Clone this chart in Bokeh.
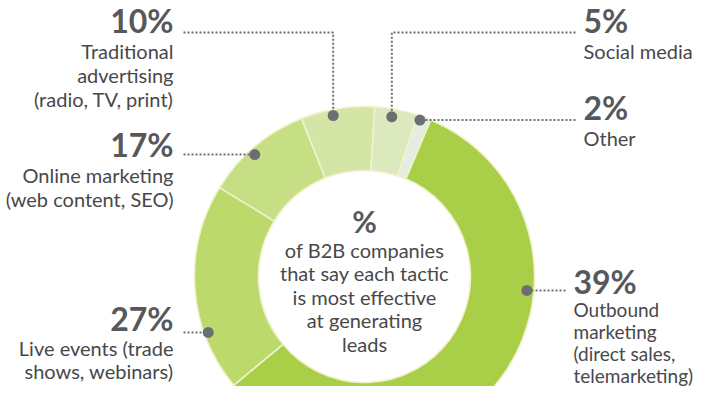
import math
from bokeh.plotting import figure
from bokeh.models import Range1d, ColumnDataSource
from bokeh.core.properties import value
from bokeh.embed import file_html
from bokeh.resources import INLINE

# ---------------- data ----------------
tactics = ["Outbound marketing", "Live events", "Online marketing",
           "Traditional advertising", "Social media", "Other"]
percent = [39, 27, 17, 10, 5, 2]
# share of the ring each slice occupies in the picture (percent of full circle)
drawn_share = [57.6, 19.8, 10.2, 7.0, 4.1, 1.3]
pct_labels = ["39%", "27%", "17%", "10%", "5%", "2%"]
label_lines = [
    ["Outbound", "marketing", "(direct sales,", "telemarketing)"],
    ["Live events (trade", "shows, webinars)"],
    ["Online marketing", "(web content, SEO)"],
    ["Traditional", "advertising", "(radio, TV, print)"],
    ["Social media"],
    ["Other"],
]
center_title = "%"
center_lines = ["of B2B companies", "that say each tactic", "is most effective",
                "at generating", "leads"]

# ---------------- styles / layout ----------------
colors = ["#a9cf48", "#bcd96c", "#c6df85", "#d3e6a6", "#dce9bf", "#e3ede0"]
sep_color = "#f1f1cc"
text_color = "#48484a"
pct_color = "#58585b"
dot_color = "#6d6e72"
FONT = "Lato"

PW, PH = 698, 386
H = 402
def sy(y):  # screen y -> data y
    return H - y

def ty(baseline, size):  # visual placement of a text whose baseline is given
    return sy(baseline - 0.4 * size)

CX, CY = 364, 276
R_IN, R_OUT = 106, 170
START_CW = 22.9  # clockwise degrees from 12 o'clock where first slice begins

# per-label layout: dot angle (cw deg), dot radius, side, text x, pct baseline,
# first-line offset, line gap, body font size, leader points (None -> dot's y, "dot" -> dot's x)
layout = [
    dict(ang=94.9, r=163, side="left", tx=573, base=294, off=23, gap=22, fs=19,
         leader=[(565, None)]),
    dict(ang=-109.7, r=166, side="right", tx=173, base=331, off=24, gap=23, fs=20,
         leader=[(183, None)]),
    dict(ang=-42.0, r=164, side="right", tx=173, base=157, off=25, gap=24, fs=20,
         leader=[(183, None)]),
    dict(ang=-11.0, r=164, side="right", tx=173, base=33, off=25, gap=24, fs=20,
         leader=[(183, 32), ("dot", 32)]),
    dict(ang=9.7, r=162, side="left", tx=583, base=33, off=25, gap=24, fs=20,
         leader=[(575, 32), ("dot", 32)]),
    dict(ang=19.5, r=166, side="left", tx=583, base=120, off=25, gap=24, fs=20,
         leader=[(575, None)]),
]

p = figure(width=PW, height=PH, output_backend="svg", toolbar_location=None,
           x_range=Range1d(0, PW), y_range=Range1d(sy(PH), sy(0)),
           x_axis_type=None, y_axis_type=None, min_border=0)
p.grid.visible = False
p.outline_line_color = None
p.background_fill_color = "#ffffff"
p.border_fill_color = "#ffffff"

# ---------------- ring ----------------
starts, ends = [], []
acc = START_CW
for s in drawn_share:
    a0 = acc
    a1 = acc + s * 3.6
    starts.append(math.radians(90 - a0))
    ends.append(math.radians(90 - a1))
    acc = a1
src = ColumnDataSource(dict(tactic=tactics, start=starts, end=ends, color=colors))
p.annular_wedge(x=CX, y=sy(CY), inner_radius=R_IN, outer_radius=R_OUT,
                start_angle="start", end_angle="end", direction="clock",
                fill_color="color", line_color=sep_color, line_width=1.6, source=src)

# ---------------- labels, leaders, dots ----------------
dot_x, dot_y = [], []
for i, L in enumerate(layout):
    a = math.radians(L["ang"])
    dx = CX + L["r"] * math.sin(a)
    dy = CY - L["r"] * math.cos(a)
    dot_x.append(dx)
    dot_y.append(dy)
    xs, ys = [], []
    for (px, py) in L["leader"]:
        xs.append(dx if px == "dot" else px)
        ys.append(sy(dy if py is None else py))
    xs.append(dx)
    ys.append(sy(dy))
    p.line(xs, ys, line_color=dot_color, line_width=2, line_dash="2 2")
    align = L["side"]
    p.text(x=[L["tx"]], y=[ty(L["base"], 32)], text=[pct_labels[i]],
           text_font=value(FONT), text_font_style="bold", text_font_size="32px",
           text_color=pct_color, text_align=align, text_baseline="middle")
    for j, line in enumerate(label_lines[i]):
        p.text(x=[L["tx"]], y=[ty(L["base"] + L["off"] + j * L["gap"], L["fs"])],
               text=[line], text_font=value(FONT), text_font_size=f"{L['fs']}px",
               text_color=text_color, text_align=align, text_baseline="middle")

p.scatter(dot_x, [sy(v) for v in dot_y], size=11, fill_color=dot_color,
          line_color=None)

# ---------------- centre text ----------------
p.text(x=[CX], y=[ty(232, 30)], text=[center_title], text_font=value(FONT),
       text_font_style="bold", text_font_size="30px", text_color=pct_color,
       text_align="center", text_baseline="middle")
for j, line in enumerate(center_lines):
    p.text(x=[CX], y=[ty(257 + j * 23.6, 20)], text=[line], text_font=value(FONT),
           text_font_size="20px", text_color=text_color,
           text_align="center", text_baseline="middle")

open("out.html", "w").write(file_html(p, INLINE))
